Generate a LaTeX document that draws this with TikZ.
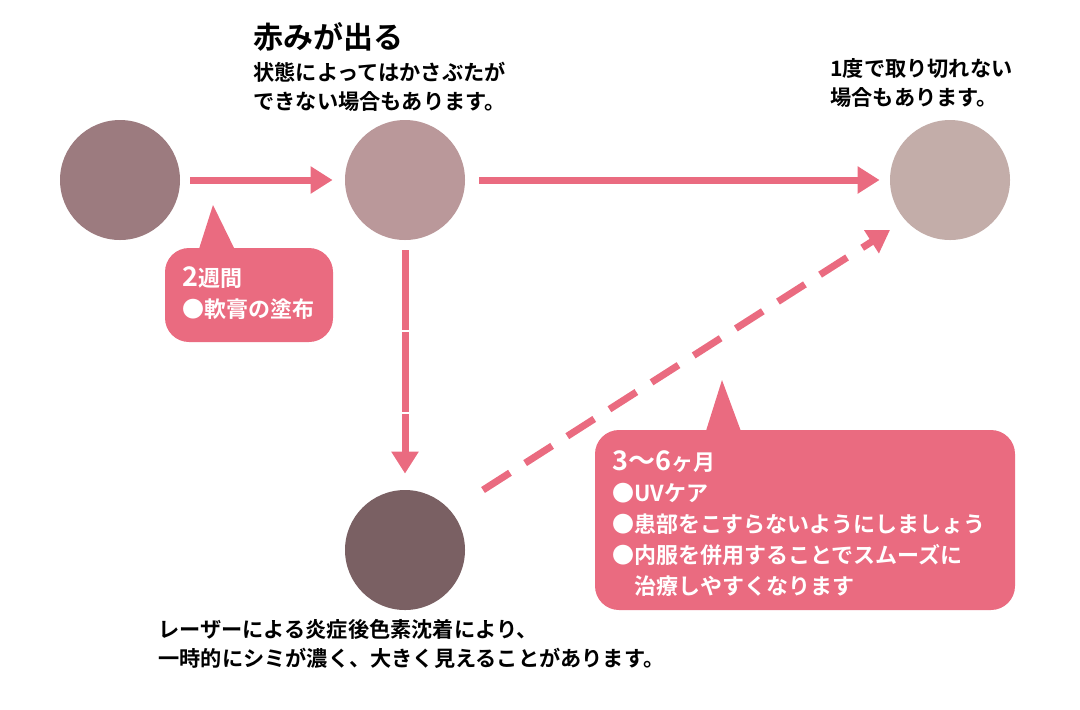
\documentclass[tikz,border=0pt]{standalone}
\usepackage{fontspec}
\setmainfont{Noto Sans CJK JP}[BoldFont={* Bold}]
\usetikzlibrary{arrows.meta, positioning}
\definecolor{MyPink}{HTML}{EA6B80}
\definecolor{StainA}{HTML}{9C7B7F}
\definecolor{StainB}{HTML}{BA989A}
\definecolor{StainC}{HTML}{C3ADA9}
\definecolor{StainD}{HTML}{7A6063}

\begin{document}
\begin{tikzpicture} [
			x=0.5pt, y=-0.5pt,
			stain/.style={circle,draw=none,minimum size=60pt,inner sep=0},
			flow/.style={draw=MyPink,line width=3.5pt,-{Triangle[length=11pt,width=13pt]}},
			callout/.style={fill=MyPink,draw=none,rounded corners=12pt},
			note/.style={font=\bfseries\fontsize{10.6}{14.5}\selectfont,align=left,anchor=north west,inner sep=0},
			tag/.style={note,text=white,font=\bfseries\fontsize{11}{15.5}\selectfont}
		]
			\useasboundingbox (0,0) rectangle (1080,709);
			\node at (120,180) [stain,fill=StainA] (nodeStart) {};
			\node at (405,180) [stain,fill=StainB] (nodeRed) {};
			\node at (950,180) [stain,fill=StainC] (nodeEnd) {};
			\node at (405,550) [stain,fill=StainD] (nodeDark) {};
			\coordinate (tipA) at (213,205);
			\coordinate (tipB) at (722,380);
			% callouts
			\fill[MyPink] (198,252) -- (tipA) -- (236,252) -- cycle;
			\fill[callout] (165,248) rectangle (333,342);
			\fill[MyPink] (705,434) -- (tipB) -- (742,434) -- cycle;
			\fill[callout] (595,430) rectangle (1015,610);
			\node at (182,266) [tag] (tagWeeks) {{\fontsize{13.5}{16}\selectfont 2}週間\\●軟膏の塗布};
			\node at (612,450) [tag] (tagMonths) {{\fontsize{13.5}{16}\selectfont 3〜6}ヶ月\\●UVケア\\●患部をこすらないようにしましょう\\●内服を併用することでスムーズに\\\hspace{1em}治療しやすくなります};
			% labels
			\node at (253,22) [note,font=\bfseries\fontsize{15}{18}\selectfont] (legRed) {赤みが出る};
			\node at (253,62) [note] (legRedSub) {状態によってはかさぶたが\\できない場合もあります。};
			\node at (830,58) [note] (legEnd) {1度で取り切れない\\場合もあります。};
			\node at (158,619) [note] (legDark) {レーザーによる炎症後色素沈着により、\\一時的にシミが濃く、大きく見えることがあります。};
			% arrows
			\draw[flow] (nodeStart.east) ++(10,0) -- ([xshift=-6pt]nodeRed.west);
			\draw[flow] (nodeRed.east) ++(14,0) -- ([xshift=-5pt]nodeEnd.west);
			\draw[flow,dash pattern=on 40pt off 1pt] (nodeRed.south) ++(0,10) -- ([yshift=8pt]nodeDark.north);
			\draw[flow,dash pattern=on 16pt off 9pt] (483,490) -- (890,230);
		\end{tikzpicture}
\end{document}
